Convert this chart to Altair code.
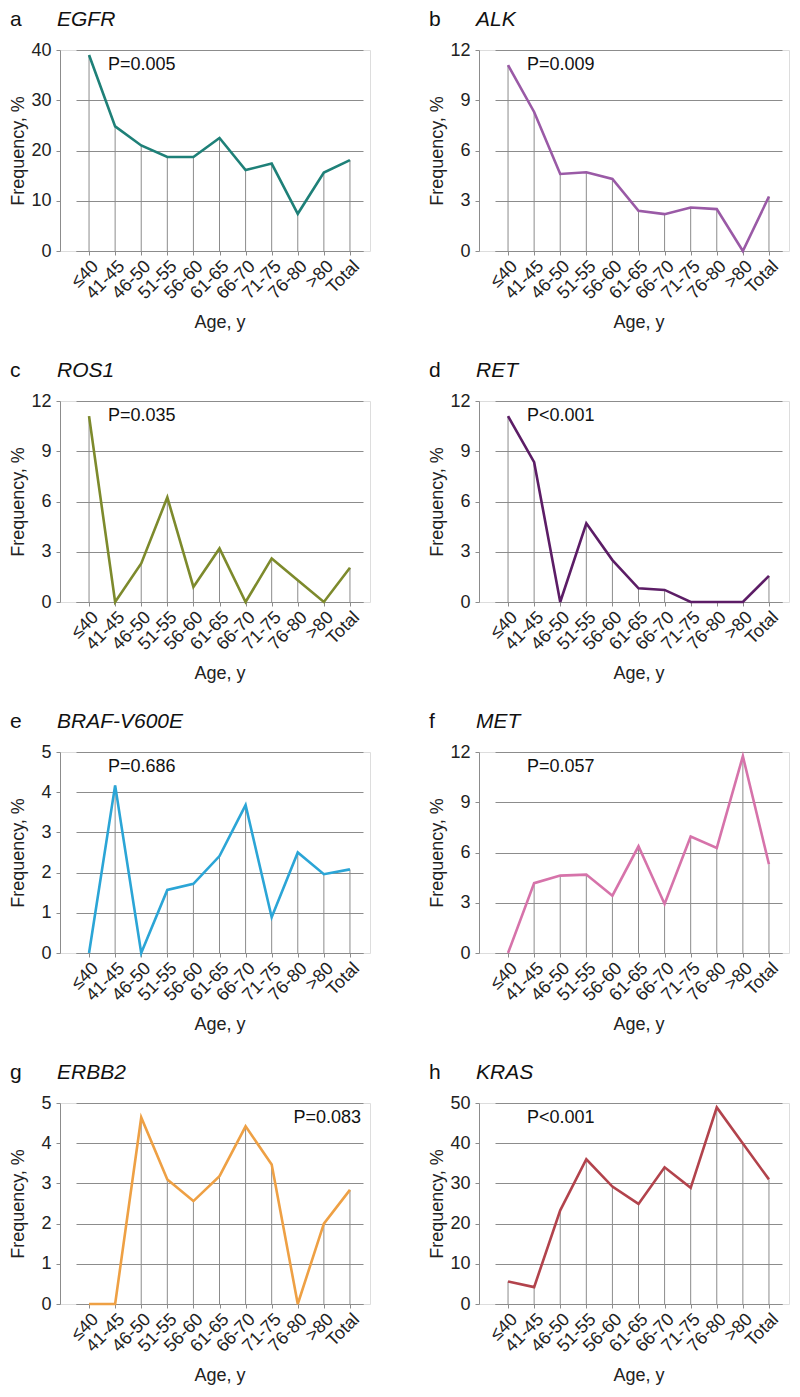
import altair as alt
import pandas as pd

ages = ["≤40", "41-45", "46-50", "51-55", "56-60", "61-65", "66-70", "71-75", "76-80", ">80", "Total"]

egfr = [39.0, 24.8, 21.0, 18.7, 18.7, 22.5, 16.1, 17.4, 7.4, 15.6, 18.1]
alk = [11.1, 8.3, 4.6, 4.7, 4.3, 2.4, 2.2, 2.6, 2.5, 0.0, 3.25]
ros1 = [11.1, 0.0, 2.3, 6.25, 0.9, 3.2, 0.0, 2.6, 1.3, 0.0, 2.05]
ret = [11.1, 8.35, 0.0, 4.7, 2.5, 0.82, 0.72, 0.0, 0.0, 0.0, 1.56]
braf = [0.0, 4.17, 0.0, 1.57, 1.72, 2.41, 3.68, 0.89, 2.5, 1.96, 2.08]
met = [0.0, 4.17, 4.62, 4.68, 3.42, 6.37, 2.93, 6.95, 6.27, 11.75, 5.3]
erbb2 = [0.0, 0.0, 4.64, 3.1, 2.56, 3.18, 4.42, 3.47, 0.0, 2.0, 2.84]
kras = [5.6, 4.2, 23.3, 36.0, 29.2, 24.9, 34.0, 28.9, 48.9, 39.9, 31.0]

series = [egfr, alk, ros1, ret, braf, met, erbb2, kras]
letters = ["a", "b", "c", "d", "e", "f", "g", "h"]
genes = ["EGFR", "ALK", "ROS1", "RET", "BRAF-V600E", "MET", "ERBB2", "KRAS"]
pvals = ["P=0.005", "P=0.009", "P=0.035", "P<0.001", "P=0.686", "P=0.057", "P=0.083", "P<0.001"]
p_right = [False, False, False, False, False, False, True, False]
ymax = [40, 12, 12, 12, 5, 12, 5, 50]
ystep = [10, 3, 3, 3, 1, 3, 1, 10]
colors = ["#1e8078", "#9a5aa6", "#7d8a2c", "#5c1d66", "#2ba5d6", "#d673aa", "#eea044", "#b2434c"]

FONT = "Liberation Sans"
GRID = "#8c8c8c"
W = 310
H = 201


def panel(i):
    df = pd.DataFrame({"age": ages, "freq": series[i], "base": [0.0] * len(ages)})
    ticks = list(range(0, ymax[i] + 1, ystep[i]))
    x = alt.X(
        "age:N",
        sort=ages,
        scale=alt.Scale(type="point", range=[16, W - 7]),
        axis=alt.Axis(
            title="Age, y", labelAngle=-45, labelFontSize=18, titleFontSize=18,
            titleFontWeight="normal", tickSize=4, tickColor=GRID, domainColor=GRID,
            labelColor="#222", titleColor="#222", grid=False, labelPadding=2,
            titlePadding=11, labelFont=FONT, titleFont=FONT,
        ),
    )
    y = alt.Y(
        "freq:Q",
        scale=alt.Scale(domain=[0, ymax[i]], nice=False),
        axis=alt.Axis(
            title="Frequency, %", values=ticks, grid=True, gridColor=GRID,
            domainColor=GRID, tickColor=GRID, tickSize=4, labelFontSize=18,
            titleFontSize=18, titleFontWeight="normal", labelColor="#222",
            titleColor="#222", labelPadding=5, titlePadding=5, minExtent=28,
            maxExtent=28, labelFont=FONT, titleFont=FONT,
        ),
    )
    base = alt.Chart(df)
    drops = base.mark_rule(color=GRID, strokeWidth=1).encode(x=x, y=y, y2="base:Q")
    line = base.mark_line(color=colors[i], strokeWidth=2.6).encode(x=x, y=y)

    lab = pd.DataFrame({"t": [letters[i]]})
    letter = alt.Chart(lab).mark_text(
        align="left", baseline="top", fontSize=21, font=FONT, color="#111"
    ).encode(x=alt.value(-50), y=alt.value(-41), text="t:N")
    gdf = pd.DataFrame({"t": [genes[i]]})
    gene = alt.Chart(gdf).mark_text(
        align="left", baseline="top", fontSize=21, font=FONT,
        fontStyle="italic", color="#111"
    ).encode(x=alt.value(-3), y=alt.value(-41), text="t:N")
    pdf = pd.DataFrame({"t": [pvals[i]]})
    if p_right[i]:
        ptxt = alt.Chart(pdf).mark_text(
            align="right", baseline="middle", fontSize=18, font=FONT, color="#111"
        ).encode(x=alt.value(W - 9), y=alt.value(15), text="t:N")
    else:
        ptxt = alt.Chart(pdf).mark_text(
            align="left", baseline="middle", fontSize=18, font=FONT, color="#111"
        ).encode(x=alt.value(48), y=alt.value(15), text="t:N")

    return alt.layer(drops, line, ptxt, letter, gene).properties(width=W, height=H)


rows = []
for r in range(4):
    rows.append(alt.hconcat(panel(2 * r), panel(2 * r + 1), spacing=56))

chart = alt.vconcat(*rows, spacing=27).properties(
    padding=0
).configure_view(stroke=None).configure(font=FONT)

chart.save("out.html", embed_options={"renderer": "svg", "actions": False})
